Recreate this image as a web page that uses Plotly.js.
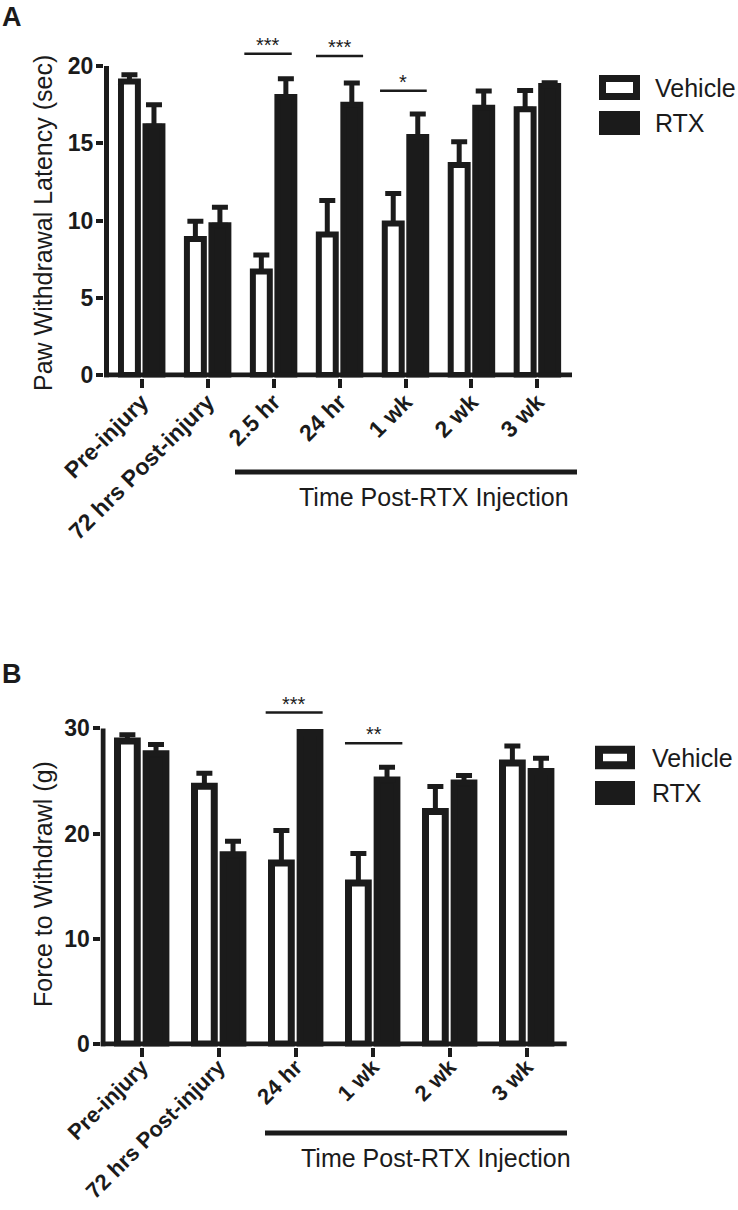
<!DOCTYPE html>
<html><head><meta charset="utf-8">
<script src="https://cdn.plot.ly/plotly-3.0.1.min.js"></script>
<style>html,body{margin:0;padding:0;background:#fff;}#chart{width:738px;height:1210px;}</style>
</head><body><div id="chart"></div>
<script>
// ---------- Panel A data: Paw Withdrawal Latency (sec) ----------
const catsA = ['Pre-injury', '72 hrs Post-injury', '2.5 hr', '24 hr', '1 wk', '2 wk', '3 wk'];
const vehicleA = [19.0, 8.8, 6.7, 9.1, 9.8, 13.6, 17.2];
const vehicleErrA = [0.43, 1.15, 1.07, 2.2, 1.94, 1.49, 1.21];
const rtxA = [16.1, 9.7, 18.0, 17.5, 15.4, 17.3, 18.7];
const rtxErrA = [1.4, 1.15, 1.18, 1.4, 1.5, 1.08, 0.21];
const sigCatsA = [2, 3, 4];
const sigLabelsA = ['***', '***', '*'];
const sigLevelsA = [20.8, 20.65, 18.4];
const yTicksA = [0, 5, 10, 15, 20];

// ---------- Panel B data: Force to Withdrawl (g) ----------
const catsB = ['Pre-injury', '72 hrs Post-injury', '24 hr', '1 wk', '2 wk', '3 wk'];
const vehicleB = [28.8, 24.5, 17.2, 15.3, 22.1, 26.7];
const vehicleErrB = [0.6, 1.24, 3.1, 2.8, 2.38, 1.62];
const rtxB = [27.6, 18.0, 29.6, 25.1, 24.8, 25.9];
const rtxErrB = [0.88, 1.27, 0.1, 1.2, 0.72, 1.27];
const sigCatsB = [2, 3];
const sigLabelsB = ['***', '**'];
const sigLevelsB = [31.5, 28.6];
const yTicksB = [0, 10, 20, 30];

const seriesNames = ['Vehicle', 'RTX'];
const panelLetters = ['A', 'B'];
const yTitles = ['Paw Withdrawal Latency (sec)', 'Force to Withdrawl (g)'];
const groupTitle = 'Time Post-RTX Injection';

// ---------- styling / geometry ----------
const W = 738, H = 1210;
const K = '#1b1b1b';
const FONT = 'Liberation Sans, Arial, Helvetica, sans-serif';
const px = p => p / W;
const py = p => 1 - p / H;

const geo = {
  A: {tick0: 141.7, step: 65.95, xl: 104, xr: 574, zero: 375, scale: 15.45, yt: 27.4, yb: 377.5,
      yLineX: 106.5, xLineEnd: 572, yTop: 20, lw: 6, xFont: 23, xStand: -8,
      sigSpans: [[-0.444, 0.275], [-0.357, 0.357], [-0.386, 0.322]],
      timeLine: [235, 577, 472], timeText: [571, 497],
      legX: [599, 640], legY: [[75, 100], [111, 135]], legTextX: 653,
      letterTop: 0, titleX: 43, titleY: 223},
  B: {tick0: 141.7, step: 77.0, xl: 100.5, xr: 568.5, zero: 1044, scale: 10.52, yt: 691.6, yb: 1046.5,
      yLineX: 103, xLineEnd: 566.7, yTop: 30, lw: 7, xFont: 22, xStand: -11,
      sigSpans: [[-0.39, 0.35], [-0.36, 0.385]],
      timeLine: [265, 567, 1133], timeText: [573, 1158],
      legX: [595, 635], legY: [[745.7, 769.3], [781, 805]], legTextX: 650,
      letterTop: 657, titleX: 43, titleY: 884}
};

const panels = [
  {key: 'A', xa: 'x', ya: 'y', cats: catsA, veh: vehicleA, vehErr: vehicleErrA, rtx: rtxA, rtxErr: rtxErrA,
   sigCats: sigCatsA, sigLabels: sigLabelsA, sigLevels: sigLevelsA, yTicks: yTicksA},
  {key: 'B', xa: 'x2', ya: 'y2', cats: catsB, veh: vehicleB, vehErr: vehicleErrB, rtx: rtxB, rtxErr: rtxErrB,
   sigCats: sigCatsB, sigLabels: sigLabelsB, sigLevels: sigLevelsB, yTicks: yTicksB}
];

const traces = [];
const shapes = [];
const annotations = [];
const layout = {
  width: W, height: H, margin: {l: 0, r: 0, t: 0, b: 0},
  paper_bgcolor: '#fff', plot_bgcolor: 'rgba(0,0,0,0)',
  barmode: 'group', bargap: 0.256, bargroupgap: 0.31,
  showlegend: false,
  font: {family: FONT, color: K}
};

panels.forEach((p, pi) => {
  const g = geo[p.key];
  const xs = p.cats.map((_, i) => i);
  const xRange = [(g.xl - g.tick0) / g.step, (g.xr - g.tick0) / g.step];
  const yRange = [-(g.yb - g.zero) / g.scale, (g.zero - g.yt) / g.scale];
  const xName = pi === 0 ? 'xaxis' : 'xaxis2';
  const yName = pi === 0 ? 'yaxis' : 'yaxis2';

  const errStyle = {type: 'data', symmetric: false, color: K, thickness: 5, width: 8};
  traces.push({
    type: 'bar', name: seriesNames[0], x: xs, y: p.veh, xaxis: p.xa, yaxis: p.ya,
    marker: {color: '#ffffff', line: {color: K, width: g.lw}},
    error_y: Object.assign({array: p.vehErr, arrayminus: p.veh.map(() => 0)}, errStyle),
    cliponaxis: false
  });
  traces.push({
    type: 'bar', name: seriesNames[1], x: xs, y: p.rtx, xaxis: p.xa, yaxis: p.ya,
    marker: {color: K, line: {color: K, width: g.lw}},
    error_y: Object.assign({array: p.rtxErr, arrayminus: p.rtx.map(() => 0)}, errStyle),
    cliponaxis: false
  });

  layout[xName] = {
    domain: [px(g.xl), px(g.xr)], anchor: p.ya, range: xRange, fixedrange: true,
    tickmode: 'array', tickvals: xs, ticktext: p.cats, tickangle: -45,
    ticks: 'outside', ticklen: 9, tickwidth: 4, tickcolor: K, ticklabelstandoff: g.xStand,
    showline: false, showgrid: false, zeroline: false,
    tickfont: {family: FONT, size: g.xFont, color: K, weight: 'bold'}
  };
  layout[yName] = {
    domain: [py(g.yb), py(g.yt)], anchor: p.xa, range: yRange, fixedrange: true,
    tickmode: 'array', tickvals: p.yTicks, ticktext: p.yTicks.map(String),
    ticks: 'outside', ticklen: 7, tickwidth: 4, tickcolor: K, ticklabelstandoff: -2,
    showline: false, showgrid: false, zeroline: false,
    tickfont: {family: FONT, size: 23, color: K, weight: 'bold'}
  };

  // axis lines (GraphPad style: y line stops at top tick)
  const yLineX = (g.yLineX - g.tick0) / g.step;
  shapes.push({type: 'line', xref: p.xa, yref: p.ya, x0: yLineX, x1: yLineX, y0: yRange[0], y1: g.yTop,
               line: {color: K, width: 5}});
  shapes.push({type: 'line', xref: p.xa, yref: p.ya, x0: xRange[0], x1: (g.xLineEnd - g.tick0) / g.step, y0: 0, y1: 0,
               line: {color: K, width: 5}});

  // significance bars
  p.sigCats.forEach((c, k) => {
    const sp = g.sigSpans[k];
    shapes.push({type: 'line', xref: p.xa, yref: p.ya, x0: c + sp[0], x1: c + sp[1],
                 y0: p.sigLevels[k], y1: p.sigLevels[k], line: {color: K, width: 2.5}});
    annotations.push({xref: p.xa, yref: p.ya, x: c + (sp[0] + sp[1]) / 2, y: p.sigLevels[k],
                      text: p.sigLabels[k], showarrow: false, xanchor: 'center', yanchor: 'bottom', yshift: -4,
                      font: {family: FONT, size: 20, color: K}});
  });

  // Time Post-RTX Injection bracket
  shapes.push({type: 'line', xref: 'paper', yref: 'paper', x0: px(g.timeLine[0]), x1: px(g.timeLine[1]),
               y0: py(g.timeLine[2]), y1: py(g.timeLine[2]), line: {color: K, width: 5}});
  annotations.push({xref: 'paper', yref: 'paper', x: px(g.timeText[0]), y: py(g.timeText[1]),
                    text: groupTitle, showarrow: false, xanchor: 'right', yanchor: 'middle',
                    font: {family: FONT, size: 25, color: K}});

  // legend boxes
  const half = g.lw / 2 + 0.5;
  shapes.push({type: 'rect', xref: 'paper', yref: 'paper',
               x0: px(g.legX[0] + half), x1: px(g.legX[1] - half),
               y0: py(g.legY[0][1] - half), y1: py(g.legY[0][0] + half),
               fillcolor: '#ffffff', line: {color: K, width: g.lw + 1}});
  shapes.push({type: 'rect', xref: 'paper', yref: 'paper',
               x0: px(g.legX[0]), x1: px(g.legX[1]),
               y0: py(g.legY[1][1]), y1: py(g.legY[1][0]),
               fillcolor: K, line: {color: K, width: 0}});
  seriesNames.forEach((n, k) => {
    annotations.push({xref: 'paper', yref: 'paper', x: px(g.legTextX), y: py((g.legY[k][0] + g.legY[k][1]) / 2),
                      text: n, showarrow: false, xanchor: 'left', yanchor: 'middle',
                      font: {family: FONT, size: 25, color: K}});
  });

  // panel letter
  annotations.push({xref: 'paper', yref: 'paper', x: 0, y: py(g.letterTop), text: '<b>' + panelLetters[pi] + '</b>',
                    showarrow: false, xanchor: 'left', yanchor: 'top',
                    font: {family: FONT, size: 27, color: K}});
  // y-axis title
  annotations.push({xref: 'paper', yref: 'paper', x: px(g.titleX), y: py(g.titleY), text: yTitles[pi],
                    textangle: -90, showarrow: false, xanchor: 'center', yanchor: 'middle',
                    font: {family: FONT, size: 25, color: K}});
});

layout.shapes = shapes;
layout.annotations = annotations;

Plotly.newPlot('chart', traces, layout, {staticPlot: true, displayModeBar: false});
</script>
</body></html>
